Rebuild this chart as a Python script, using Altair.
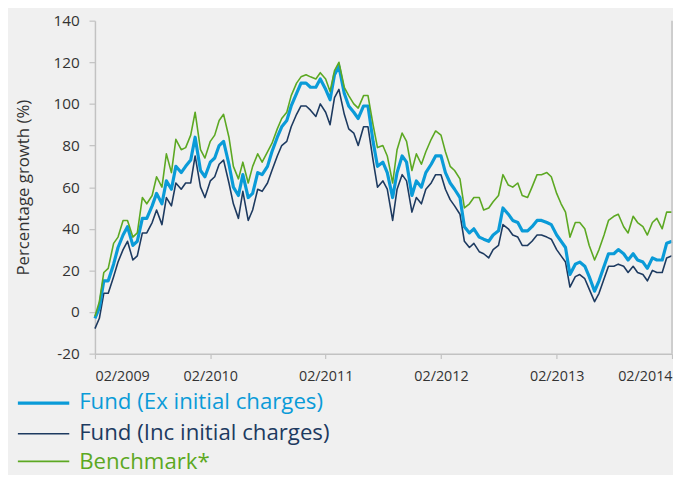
import altair as alt
import pandas as pd

# Half-monthly observation dates, Feb 2009 - Feb 2014
dates = pd.date_range("2009-02-01", periods=121, freq="SMS")

fund_ex = [-3, 2, 15, 15, 23, 31, 37, 41, 32, 34, 45, 45, 51, 57, 52, 63, 59, 70, 67, 70,
           73, 84, 68, 65, 72, 74, 80, 82, 71, 60, 56, 66, 55, 57, 67, 66, 70, 77, 84, 89,
           92, 99, 105, 110, 110, 108, 108, 112, 107, 102, 114, 118, 105, 99, 96, 93, 99, 99, 82, 70,
           72, 67, 55, 67, 75, 72, 56, 63, 60, 67, 71, 75, 75, 67, 62, 59, 55, 41, 38, 40,
           36, 35, 34, 37, 39, 50, 47, 44, 43, 39, 39, 41, 44, 44, 43, 42, 37, 34, 31, 18,
           23, 24, 22, 17, 10, 15, 22, 28, 28, 30, 28, 25, 28, 25, 24, 21, 26, 25, 25, 33, 34]

fund_inc = [-8, -3, 9, 9, 17, 24, 30, 34, 25, 27, 38, 38, 43, 49, 42, 55, 51, 62, 59, 62,
            62, 75, 60, 55, 63, 65, 71, 73, 62, 52, 45, 58, 44, 49, 59, 58, 62, 68, 75, 80,
            82, 89, 95, 99, 99, 97, 94, 100, 96, 90, 103, 107, 95, 88, 86, 80, 89, 89, 73, 60,
            63, 59, 44, 59, 66, 63, 48, 55, 52, 59, 62, 66, 66, 59, 54, 51, 47, 34, 31, 33,
            29, 28, 26, 30, 32, 42, 40, 37, 36, 32, 32, 34, 37, 37, 36, 35, 30, 27, 24, 12,
            17, 18, 16, 11, 5, 9, 16, 22, 22, 23, 22, 19, 22, 19, 18, 15, 20, 19, 19, 26, 27]

benchmark = [-2, 5, 19, 21, 33, 36, 44, 44, 36, 38, 55, 52, 56, 65, 60, 76, 67, 83, 78, 79,
             85, 96, 78, 74, 82, 85, 92, 95, 84, 70, 64, 72, 62, 70, 76, 72, 77, 81, 88, 93,
             96, 104, 110, 113, 114, 113, 112, 115, 112, 106, 116, 120, 108, 104, 100, 98, 104, 104, 90, 79,
             80, 75, 62, 78, 86, 82, 68, 76, 71, 77, 83, 87, 85, 77, 70, 68, 64, 50, 52, 55,
             55, 49, 50, 53, 56, 66, 61, 60, 62, 56, 55, 60, 66, 66, 67, 65, 57, 52, 48, 36,
             43, 43, 40, 32, 25, 30, 37, 44, 46, 47, 41, 38, 46, 43, 41, 37, 43, 45, 40, 48, 48]

series_names = ["Fund (Ex initial charges)", "Fund (Inc initial charges)", "Benchmark*"]
colors = ["#0A9BD8", "#1D3A60", "#5CA822"]
widths = [3.2, 1.6, 1.6]

y_ticks = [-20, 0, 20, 40, 60, 80, 100, 120, 140]
tick_years = [2009, 2010, 2011, 2012, 2013, 2014]

FONT = "Open Sans"
AXIS_GREY = "#c2c2c2"
TEXT_GREY = "#333333"

x_enc = alt.X(
    "date:T",
    scale=alt.Scale(domain=[alt.DateTime(year=2009, month=2, date=1),
                            alt.DateTime(year=2014, month=2, date=1)]),
    axis=alt.Axis(
        values=[alt.DateTime(year=yy, month=2, date=1) for yy in tick_years],
        format="%m/%Y", title=None, grid=False, labelFlush=True,
        tickSize=5, labelPadding=11, labelFontSize=14.5, labelColor=TEXT_GREY,
        labelFont=FONT, domainColor=AXIS_GREY, domainWidth=1.5,
        tickColor=AXIS_GREY, tickWidth=1.2,
    ),
)
y_enc = alt.Y(
    "value:Q",
    scale=alt.Scale(domain=[-20, 140], nice=False, zero=False),
    axis=alt.Axis(
        values=y_ticks, title="Percentage growth (%)", grid=False,
        labelExpr="replace(datum.label, '\u2212', '-')",
        tickSize=6, labelPadding=10, labelFontSize=15.5, labelColor=TEXT_GREY,
        labelFont=FONT, titleFont=FONT, titleFontSize=17, titleFontWeight="normal",
        titleColor=TEXT_GREY, titlePadding=21,
        domainColor=AXIS_GREY, domainWidth=1.5, tickColor=AXIS_GREY, tickWidth=1.2,
    ),
)

frames = {
    series_names[0]: pd.DataFrame({"date": dates, "value": fund_ex}),
    series_names[1]: pd.DataFrame({"date": dates, "value": fund_inc}),
    series_names[2]: pd.DataFrame({"date": dates, "value": benchmark}),
}

draw_order = [1, 0, 2]
layers = []
for i in draw_order:
    layers.append(
        alt.Chart(frames[series_names[i]]).mark_line(
            color=colors[i], strokeWidth=widths[i], strokeJoin="round"
        ).encode(x=x_enc, y=y_enc)
    )

# right frame line at end of the period
frame_df = pd.DataFrame({"date": [dates[-1]]})
right_line = alt.Chart(frame_df).mark_rule(color=AXIS_GREY, strokeWidth=1.5).encode(
    x=alt.X("date:T"), y=alt.value(0), y2=alt.value(337)
)
layers.append(right_line)

# custom legend below the plot
legend_rows = [387, 418, 446]
legend_text_rows = [386, 417, 447]
legend_df = pd.DataFrame({"name": series_names})
for i, name in enumerate(series_names):
    layers.append(
        alt.Chart(legend_df).transform_filter(alt.datum.name == name).mark_rule(
            color=colors[i], strokeWidth=widths[i]
        ).encode(x=alt.value(-78), x2=alt.value(-26), y=alt.value(legend_rows[i]))
    )
    layers.append(
        alt.Chart(legend_df).transform_filter(alt.datum.name == name).mark_text(
            color=colors[i], fontSize=22.5, font=FONT, align="left", baseline="middle"
        ).encode(text="name:N", x=alt.value(-16), y=alt.value(legend_text_rows[i]))
    )

chart = alt.layer(*layers).properties(
    width=584, height=337,
    autosize=alt.AutoSizeParams(type="none"),
    padding={"left": 88, "top": 10, "right": 1, "bottom": 120},
    background="#f0f0f0",
).configure_view(stroke=None)

chart.save("out.html", embed_options={"renderer": "svg", "actions": False})
